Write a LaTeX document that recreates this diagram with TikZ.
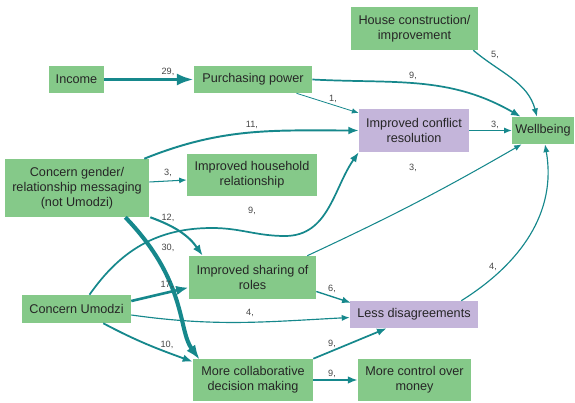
\documentclass[tikz,border=0pt]{standalone}
\usepackage{fontspec}
\setmainfont{Liberation Sans}
\usetikzlibrary{arrows.meta, calc}
\definecolor{boxgreen}{RGB}{133,201,137}
\definecolor{boxlilac}{RGB}{196,181,218}
\definecolor{flowteal}{RGB}{22,136,140}
\definecolor{numgrey}{RGB}{70,70,70}

\begin{document}
\begin{tikzpicture}[x=0.025cm, y=0.025cm, font=\fontsize{9}{10.5}\selectfont,
    >={Latex[length=3pt 3.2, width=2.6pt 2.2]},
    box/.style={fill=boxgreen, align=center, inner sep=1pt, text=black!85},
    hub/.style={box, fill=boxlilac},
    flow/.style={->, draw=flowteal, line width=0.5pt+0.08pt*#1},
    bigtip/.style={-{Latex[length=#1, width=0.72*#1]}},
    lbl/.style={font=\fontsize{6.5}{7}\selectfont, text=numgrey, inner sep=0pt}]
  \useasboundingbox (0,0) rectangle (575,403);

  % boxes
  \node[box, minimum width=1.375cm, minimum height=0.675cm] (income) at (76.5,323.5) {Income};
  \node[box, minimum width=2.95cm, minimum height=0.675cm] (purch) at (253,323.5) {Purchasing power};
  \node[box, minimum width=3.175cm, minimum height=1.075cm] (house) at (414.5,374.5) {House construction/\\improvement};
  \node[hub, minimum width=2.75cm, minimum height=1.075cm] (conflict) at (414,272.5) {Improved conflict\\resolution};
  \node[box, minimum width=1.55cm, minimum height=0.675cm] (wellb) at (543,272.5) {Wellbeing};
  \node[box, minimum width=3.6cm, minimum height=1.45cm] (gender) at (77,215) {Concern gender/\\relationship messaging\\(not Umodzi)};
  \node[box, minimum width=3.25cm, minimum height=1.05cm] (household) at (252,228) {Improved household\\relationship};
  \node[box, minimum width=3.175cm, minimum height=1.075cm] (sharing) at (252.5,125.5) {Improved sharing of\\roles};
  \node[box, minimum width=2.725cm, minimum height=0.7cm] (umodzi) at (76.5,94) {Concern Umodzi};
  \node[hub, minimum width=3.2cm, minimum height=0.675cm] (lessdis) at (414,88.5) {Less disagreements};
  \node[box, minimum width=3.0cm, minimum height=1.05cm] (collab) at (253,23) {More collaborative\\decision making};
  \node[box, minimum width=2.825cm, minimum height=1.05cm] (control) at (414.5,23) {More control over\\money};

  % waypoints
  \coordinate (bend1) at (212,175);
  \coordinate (bend2) at (285,167);

  % links
  \draw[flow=29, bigtip=12pt] (income) -- (purch);
  \draw[flow=9] (purch.east) to[out=-3, in=150] ($(wellb.north west)+(9,0)$);
  \draw[flow=1] (purch) -- (conflict);
  \draw[flow=5] ($(house.south east)+(-5,0)$) to[out=-40, in=105] ($(wellb.north)+(-6,0)$);
  \draw[flow=11] ($(gender.north east)+(-5,0)$) to[out=22, in=180] (conflict.west);
  \draw[flow=3] (conflict) -- (wellb);
  \draw[flow=3] ($(gender.east)+(0,6)$) -- ($(household.west)+(0,-5)$);
  \draw[flow=12] ($(gender.south east)+(1,0)$) to[out=-20, in=125] ($(sharing.north west)+(14,0)$);
  \draw[flow=30, bigtip=10.5pt] ($(gender.south east)+(-24,0)$) .. controls +(62,-64) and +(-22,30) .. ($(collab.north west)+(7,-1)$);
  \draw[flow=9] ($(umodzi.north)+(13,0)$) to[out=55, in=180] (bend1) to[out=0, in=180] (bend2) to[out=0, in=235] (conflict.south west);
  \draw[flow=3] ($(sharing.north east)+(-9,0)$) to[out=25, in=210] ($(wellb.south west)+(10,0)$);
  \draw[flow=17] ($(umodzi.east)+(0,8)$) -- ($(sharing.west)+(0,-10)$);
  \draw[flow=4] ($(umodzi.east)+(0,-6)$) to[out=-8, in=183] ($(lessdis.west)+(0,-3)$);
  \draw[flow=10] ($(umodzi.south east)+(-28,0)$) to[out=-28, in=160] ($(collab.north west)+(0,-3)$);
  \draw[flow=6] ($(sharing.east)+(0,-14)$) -- ($(lessdis.north west)+(1,-2)$);
  \draw[flow=4] ($(lessdis.north east)+(-17,0)$) to[out=32, in=-80] ($(wellb.south)+(2,0)$);
  \draw[flow=9] (collab.north east) -- ($(lessdis.south west)+(37,0)$);
  \draw[flow=9] (collab) -- (control);

  % counts
  \node[lbl] (n29) at (168,331) {29,};
  \node[lbl] (n9pw) at (413,327) {9,};
  \node[lbl] (n1) at (333,304) {1,};
  \node[lbl] (n5) at (495,348) {5,};
  \node[lbl] (n11) at (252,278) {11,};
  \node[lbl] (n3cw) at (495,278) {3,};
  \node[lbl] (n3hh) at (168,230) {3,};
  \node[lbl] (n12) at (168,185) {12,};
  \node[lbl] (n30) at (168,155) {30,};
  \node[lbl] (n9uc) at (252,192) {9,};
  \node[lbl] (n3sw) at (413,235) {3,};
  \node[lbl] (n17) at (167,118) {17,};
  \node[lbl] (n4ul) at (250,90) {4,};
  \node[lbl] (n10) at (167,58) {10,};
  \node[lbl] (n6) at (332,114) {6,};
  \node[lbl] (n4lw) at (493,136) {4,};
  \node[lbl] (n9cl) at (332,59) {9,};
  \node[lbl] (n9cc) at (332,29) {9,};
\end{tikzpicture}
\end{document}
